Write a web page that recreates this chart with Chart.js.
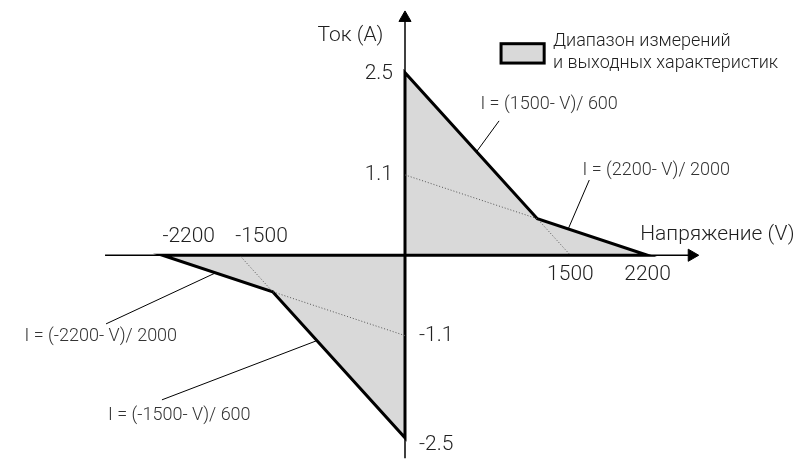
<!DOCTYPE html>
<html>
<head>
<meta charset="utf-8">
<script src="https://cdn.jsdelivr.net/npm/chart.js@4.4.1/dist/chart.umd.min.js"></script>
<style>
  html, body { margin: 0; padding: 0; background: #fff; }
  #wrap { width: 810px; height: 468px; }
</style>
</head>
<body>
<div id="wrap"><canvas id="ivChart"></canvas></div>
<script>
// region corners (V, A)
const posRegion = [[0, 0], [0, 2.5], [1200, 0.5], [2200, 0], [0, 0]];
const negRegion = [[0, 0], [0, -2.5], [-1200, -0.5], [-2200, 0], [0, 0]];
// extensions of the two limit lines, shown dotted
const posDotted = [[0, 1.1], [1200, 0.5], [1500, 0]];
const negDotted = [[0, -1.1], [-1200, -0.5], [-1500, 0]];
// axes
const xAxisLine = [[-2720, 0], [2620, 0]];
const yAxisLine = [[0, -2.78], [0, 3.25]];
// leader lines from formulas to the boundary
const leaders = [
  [[853, 1.84], [650, 1.42]],
  [[1671, 1.03], [1480, 0.36]],
  [[-1716, -0.24], [-2711, -0.94]],
  [[-800, -1.17], [-2204, -1.98]]
];
const tickTexts = ["2.5", "1.1", "-1.1", "-2.5", "-2200", "-1500", "1500", "2200"];
const tickAt = [[0, 2.48], [0, 1.1], [0, -1.1], [0, -2.6], [-2200, 0.25], [-1540, 0.25], [1500, -0.27], [2200, -0.27]];
const formulas = ["I = (1500- V)/ 600", "I = (2200- V)/ 2000", "I = (-2200- V)/ 2000", "I = (-1500- V)/ 600"];
const formulaAt = [[684, 2.06], [1610, 1.16], [-3450, -1.11], [-2693, -2.2]];
const axisTitles = ["Ток (А)", "Напряжение (V)"];
const legendLines = ["Диапазон измерений", "и выходных характеристик"];

function toPoints(list) {
  return list.map(([x, y]) => ({ x, y }));
}

const textColor = "#1f1f1f";
const fontFamily = "Roboto, 'Noto Sans', sans-serif";

const labelsPlugin = {
  id: "ivLabels",
  afterDatasetsDraw(chart) {
    const { ctx, scales } = chart;
    const px = (v) => scales.x.getPixelForValue(v);
    const py = (v) => scales.y.getPixelForValue(v);
    ctx.save();
    ctx.fillStyle = textColor;
    ctx.textBaseline = "middle";

    ctx.font = `300 21px ${fontFamily}`;
    tickTexts.forEach((text, i) => {
      const [x, y] = tickAt[i];
      if (x === 0) {
        ctx.textAlign = y > 0 ? "right" : "left";
        ctx.fillText(text, px(0) + (y > 0 ? -12 : 14), py(y));
      } else if (y > 0) {
        ctx.textAlign = "left";
        ctx.fillText(text, px(x), py(y));
      } else {
        ctx.textAlign = "center";
        ctx.fillText(text, px(x), py(y));
      }
    });

    ctx.textAlign = "right";
    ctx.fillText(axisTitles[0], px(-196), py(3.0));
    ctx.textAlign = "left";
    ctx.fillText(axisTitles[1], px(2133), py(0.28));

    ctx.font = `300 18px ${fontFamily}`;
    ctx.fillStyle = "#333";
    formulas.forEach((text, i) => {
      const [x, y] = formulaAt[i];
      ctx.textAlign = "left";
      ctx.fillText(text, px(x), py(y));
    });

    // legend swatch
    const bx = px(871), by = py(2.897);
    const bw = px(1262) - bx, bh = py(2.632) - by;
    ctx.fillStyle = "#d9d9d9";
    ctx.fillRect(bx, by, bw, bh);
    ctx.lineWidth = 3;
    ctx.strokeStyle = "#000";
    ctx.strokeRect(bx, by, bw, bh);
    ctx.fillStyle = textColor;
    ctx.textAlign = "left";
    ctx.font = `300 18px ${fontFamily}`;
    ctx.fillText(legendLines[0], px(1342), py(2.923));
    ctx.fillText(legendLines[1], px(1342), py(2.632));
    ctx.restore();
  }
};

const lineSet = (data, extra) => Object.assign({
  data: toPoints(data),
  showLine: true,
  pointRadius: 0,
  borderColor: "#000",
  borderWidth: 1,
  fill: false,
  tension: 0
}, extra);

new Chart(document.getElementById("ivChart"), {
  type: "scatter",
  data: {
    datasets: [
      lineSet(xAxisLine, { borderWidth: 1.5, order: 5 }),
      lineSet(yAxisLine, { borderWidth: 1.5, order: 5 }),
      lineSet(posRegion, { borderWidth: 3, fill: "shape", backgroundColor: "#d9d9d9", order: 4 }),
      lineSet(negRegion, { borderWidth: 3, fill: "shape", backgroundColor: "#d9d9d9", order: 4 }),
      lineSet(posDotted, { borderColor: "#555", borderDash: [1, 2], order: 3 }),
      lineSet(negDotted, { borderColor: "#555", borderDash: [1, 2], order: 3 }),
      ...leaders.map((seg) => lineSet(seg, { order: 2 })),
      {
        data: [{ x: 2600, y: 0 }],
        pointStyle: "triangle",
        rotation: 90,
        pointRadius: 7,
        backgroundColor: "#000",
        borderColor: "#000",
        order: 1
      },
      {
        data: [{ x: 0, y: 3.25 }],
        pointStyle: "triangle",
        rotation: 0,
        pointRadius: 7,
        backgroundColor: "#000",
        borderColor: "#000",
        order: 1
      }
    ]
  },
  options: {
    responsive: true,
    maintainAspectRatio: false,
    animation: false,
    layout: { padding: 0 },
    plugins: {
      legend: { display: false },
      tooltip: { enabled: false }
    },
    scales: {
      x: { type: "linear", min: -3600, max: 3600, display: false },
      y: { type: "linear", min: -2.804, max: 3.386, display: false }
    }
  },
  plugins: [labelsPlugin]
});
</script>
</body>
</html>
